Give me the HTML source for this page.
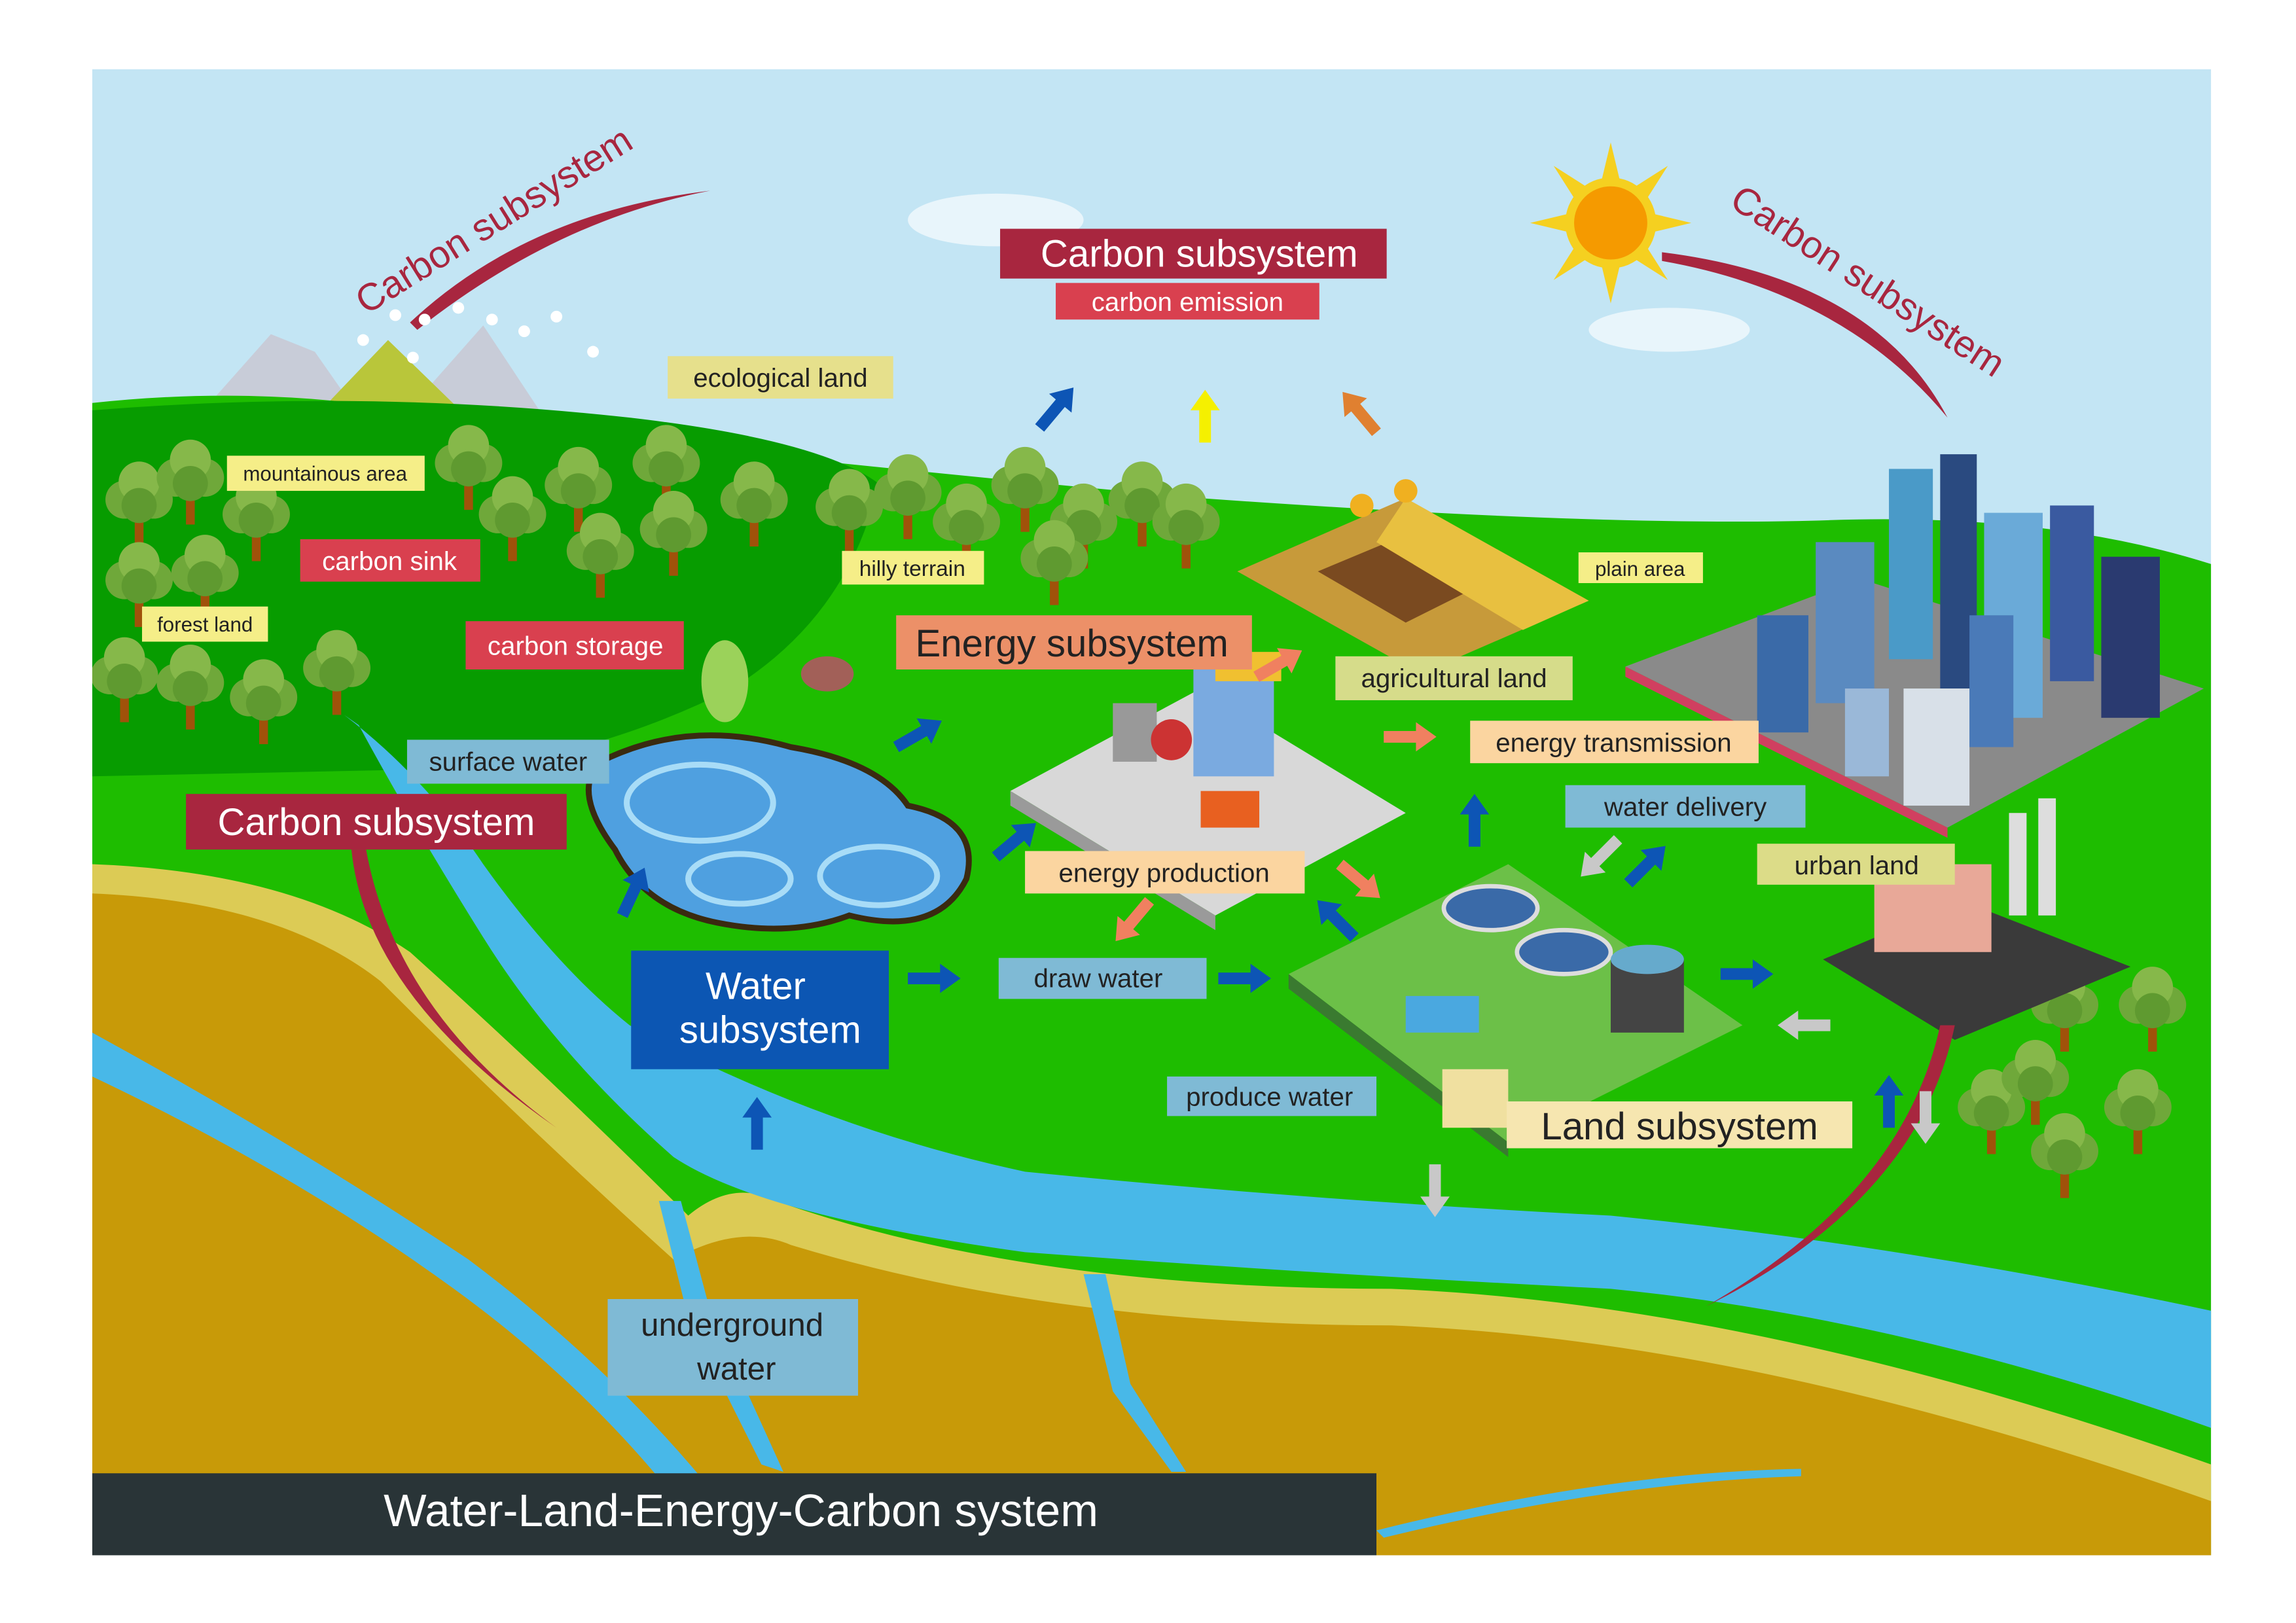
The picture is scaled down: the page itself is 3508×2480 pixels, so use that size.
<!DOCTYPE html>
<html><head><meta charset="utf-8"><style>
html,body{margin:0;padding:0;background:#fff}
svg{display:block}
text{font-family:"Liberation Sans",sans-serif}
</style></head><body>
<svg width="3508" height="2480" viewBox="0 0 1568 1108" xmlns="http://www.w3.org/2000/svg">
<defs>
<clipPath id="fr"><rect x="63" y="47" width="1447" height="1015"/></clipPath>
<g id="tree"><rect x="-3" y="0" width="6" height="28" fill="#a0520a"/><circle cx="-10" cy="-4" r="13" fill="#6fa83a"/><circle cx="10" cy="-4" r="13" fill="#6fa83a"/><circle cx="0" cy="-16" r="14" fill="#86b84a"/><circle cx="0" cy="0" r="12" fill="#5f9a30"/></g>
<path id="arr" d="M-4,0 L-4,-22 L-10,-22 L0,-36 L10,-22 L4,-22 L4,0 z"/>
</defs>
<g clip-path="url(#fr)">
<rect x="63" y="47" width="1447" height="1015" fill="#c3e5f4"/>
<ellipse cx="680" cy="150" rx="60" ry="18" fill="#e8f5fb"/>
<ellipse cx="1140" cy="225" rx="55" ry="15" fill="#e8f5fb"/>
<path d="M130,290 L185,228 L215,240 L250,290 Z" fill="#c8ccd8"/>
<path d="M270,290 L330,222 L375,290 Z" fill="#c8ccd8"/>
<path d="M200,300 L265,232 L335,300 Z" fill="#b9c63a"/>
<path d="M63,275 Q200,260 330,290 Q600,320 820,340 Q1100,360 1250,355 Q1400,350 1510,385 L1510,1062 L63,1062 Z" fill="#1ebd00"/>
<path d="M63,280 Q250,265 430,285 Q560,300 600,330 Q580,420 500,470 Q400,520 300,525 L63,530 Z" fill="#079c00"/>
<path d="M63,590 Q200,595 280,650 Q380,740 470,830 Q500,805 530,820 Q700,880 950,880 Q1200,890 1510,1000 L1510,1062 L63,1062 Z" fill="#dccb55"/>
<path d="M63,610 Q190,615 260,670 Q360,770 460,860 Q505,835 540,850 Q720,905 950,905 Q1200,915 1510,1025 L1510,1062 L63,1062 Z" fill="#c89a08"/>
<path d="M235,488 Q290,530 330,590 Q380,660 430,700 Q560,770 700,800 Q900,820 1100,830 Q1300,850 1510,895 L1510,975 Q1300,900 1100,880 Q900,870 700,855 Q520,830 460,790 Q380,720 330,640 Q280,560 245,495 Z" fill="#48b8e8"/>
<path d="M63,735 Q200,800 310,880 Q420,960 490,1062 L520,1062 Q440,950 320,860 Q200,780 63,705 Z" fill="#48b8e8"/>
<path d="M450,820 L470,900 L520,1000 L535,1005 L485,895 L465,820 Z" fill="#48b8e8"/>
<path d="M740,870 L760,950 L800,1005 L810,1005 L772,945 L755,870 Z" fill="#48b8e8"/>
<path d="M940,1045 Q1100,1005 1230,1003 L1230,1008 Q1100,1012 945,1050 Z" fill="#48b8e8"/>
<path d="M410,520 Q470,490 540,510 Q600,520 620,550 Q670,560 660,600 Q640,640 580,625 Q540,640 490,630 Q440,620 420,580 Q390,540 410,520 Z" fill="#4fa0e0" stroke="#3a2a10" stroke-width="4"/>
<ellipse cx="478" cy="548" rx="50" ry="26" fill="none" stroke="#a8dcf7" stroke-width="4"/>
<ellipse cx="600" cy="598" rx="40" ry="20" fill="none" stroke="#a8dcf7" stroke-width="4"/>
<ellipse cx="505" cy="600" rx="35" ry="17" fill="none" stroke="#a8dcf7" stroke-width="4"/>
<g>
<use href="#tree" x="95" y="345"/><use href="#tree" x="130" y="330"/><use href="#tree" x="175" y="355"/><use href="#tree" x="95" y="400"/><use href="#tree" x="140" y="395"/>
<use href="#tree" x="85" y="465"/><use href="#tree" x="130" y="470"/><use href="#tree" x="180" y="480"/><use href="#tree" x="230" y="460"/>
<use href="#tree" x="320" y="320"/><use href="#tree" x="350" y="355"/><use href="#tree" x="395" y="335"/><use href="#tree" x="455" y="320"/><use href="#tree" x="410" y="380"/><use href="#tree" x="460" y="365"/><use href="#tree" x="515" y="345"/>
<use href="#tree" x="580" y="350"/><use href="#tree" x="620" y="340"/><use href="#tree" x="660" y="360"/><use href="#tree" x="700" y="335"/><use href="#tree" x="740" y="360"/><use href="#tree" x="780" y="345"/><use href="#tree" x="810" y="360"/><use href="#tree" x="720" y="385"/>
<use href="#tree" x="1360" y="760"/><use href="#tree" x="1410" y="790"/><use href="#tree" x="1460" y="760"/><use href="#tree" x="1410" y="690"/><use href="#tree" x="1470" y="690"/><use href="#tree" x="1390" y="740"/>
</g>
<ellipse cx="495" cy="465" rx="16" ry="28" fill="#9bd25a"/>
<ellipse cx="565" cy="460" rx="18" ry="12" fill="#a26058"/>
<path d="M845,390 L960,340 L1085,410 L970,460 Z" fill="#c79a3a"/>
<path d="M900,390 L960,365 L1020,395 L960,425 Z" fill="#7a4a20"/>
<path d="M960,340 L1085,410 L1040,430 L940,370 Z" fill="#e8c040"/>
<circle cx="930" cy="345" r="8" fill="#f0b020"/><circle cx="960" cy="335" r="8" fill="#f0b020"/>
<path d="M690,540 L820,470 L960,555 L830,625 Z" fill="#d8d8d8"/>
<path d="M690,540 L830,625 L830,635 L690,550 Z" fill="#9a9a9a"/>
<rect x="815" y="455" width="55" height="75" fill="#7aaae0"/>
<rect x="830" y="445" width="45" height="20" fill="#f0c030"/>
<rect x="760" y="480" width="30" height="40" fill="#999"/>
<rect x="820" y="540" width="40" height="25" fill="#e86020"/>
<circle cx="800" cy="505" r="14" fill="#c33"/>
<path d="M880,665 L1030,590 L1190,700 L1030,780 Z" fill="#6cc048"/>
<path d="M880,665 L1030,780 L1030,790 L880,675 Z" fill="#3a7a30"/>
<ellipse cx="1018" cy="620" rx="32" ry="15" fill="#3a6aa8" stroke="#ddd" stroke-width="3"/>
<ellipse cx="1068" cy="650" rx="32" ry="15" fill="#3a6aa8" stroke="#ddd" stroke-width="3"/>
<rect x="1100" y="655" width="50" height="50" fill="#444"/>
<ellipse cx="1125" cy="655" rx="25" ry="10" fill="#6ac"/>
<rect x="960" y="680" width="50" height="25" fill="#4aa8e0"/>
<rect x="985" y="730" width="45" height="40" fill="#f0e0a0"/>
<path d="M1110,455 L1270,395 L1505,470 L1330,565 Z" fill="#8a8a8a"/>
<path d="M1110,455 L1330,565 L1330,572 L1110,462 Z" fill="#d04060"/>
<rect x="1200" y="420" width="35" height="80" fill="#3a6aa8"/>
<rect x="1240" y="370" width="40" height="110" fill="#5a8ac0"/>
<rect x="1290" y="320" width="30" height="130" fill="#4a9ac8"/>
<rect x="1325" y="310" width="25" height="160" fill="#2a4a80"/>
<rect x="1355" y="350" width="40" height="140" fill="#6aaad8"/>
<rect x="1400" y="345" width="30" height="120" fill="#3a5aa0"/>
<rect x="1435" y="380" width="40" height="110" fill="#2a3a70"/>
<rect x="1300" y="470" width="45" height="80" fill="#d8e0e8"/>
<rect x="1345" y="420" width="30" height="90" fill="#4a7ab8"/>
<rect x="1260" y="470" width="30" height="60" fill="#9ab8d8"/>
<path d="M1245,655 L1340,615 L1455,660 L1335,710 Z" fill="#3a3a3a"/>
<rect x="1280" y="590" width="80" height="60" fill="#e8a898"/>
<rect x="1372" y="555" width="12" height="70" fill="#ddd"/>
<rect x="1392" y="545" width="12" height="80" fill="#ddd"/>
<g transform="translate(1100,152)">
<g fill="#f5d020">
<polygon points="0,-55 6,-30 -6,-30"/><polygon points="0,55 6,30 -6,30"/><polygon points="-55,0 -30,6 -30,-6"/><polygon points="55,0 30,6 30,-6"/>
<polygon points="39,-39 25,-17 17,-25"/><polygon points="-39,39 -25,17 -17,25"/><polygon points="39,39 25,17 17,25"/><polygon points="-39,-39 -25,-17 -17,-25"/>
</g>
<circle r="31" fill="#f5d020"/><circle r="25" fill="#f59a00"/>
</g>
<path d="M280,220 Q360,145 485,130 Q380,150 285,225 Z" fill="#a8263f"/>
<path d="M1135,172 Q1280,190 1330,285 Q1260,200 1135,178 Z" fill="#a8263f"/>
<path d="M240,580 Q250,680 380,770 Q270,690 250,580 Z" fill="#a8263f"/>
<path d="M1335,700 Q1310,820 1165,892 Q1300,815 1325,700 Z" fill="#a8263f"/>
<g fill="#fff"><circle cx="248" cy="232" r="4"/><circle cx="270" cy="215" r="4"/><circle cx="290" cy="218" r="4"/><circle cx="313" cy="210" r="4"/><circle cx="336" cy="218" r="4"/><circle cx="358" cy="226" r="4"/><circle cx="380" cy="216" r="4"/><circle cx="405" cy="240" r="4"/><circle cx="282" cy="244" r="4"/></g>
<g fill="#0d55b5">
<use href="#arr" transform="translate(710,292) rotate(40)"/>
<use href="#arr" transform="translate(425,625) rotate(25)"/>
<use href="#arr" transform="translate(612,510) rotate(60)"/>
<use href="#arr" transform="translate(680,585) rotate(50)"/>
<use href="#arr" transform="translate(620,668) rotate(90)"/>
<use href="#arr" transform="translate(832,668) rotate(90)"/>
<use href="#arr" transform="translate(517,785) rotate(0)"/>
<use href="#arr" transform="translate(1007,578) rotate(0)"/>
<use href="#arr" transform="translate(1112,603) rotate(45)"/>
<use href="#arr" transform="translate(925,640) rotate(-45)"/>
<use href="#arr" transform="translate(1175,665) rotate(90)"/>
<use href="#arr" transform="translate(1290,770) rotate(0)"/>
</g>
<use href="#arr" fill="#f5f000" transform="translate(823,302)"/>
<use href="#arr" fill="#e08030" transform="translate(940,295) rotate(-40)"/>
<g fill="#f08060">
<use href="#arr" transform="translate(858,462) rotate(60)"/>
<use href="#arr" transform="translate(945,503) rotate(90)"/>
<use href="#arr" transform="translate(915,590) rotate(130)"/>
<use href="#arr" transform="translate(785,615) rotate(-140)"/>
</g>
<g fill="#c8c8c8">
<use href="#arr" transform="translate(1105,573) rotate(-135)"/>
<use href="#arr" transform="translate(1250,700) rotate(-90)"/>
<use href="#arr" transform="translate(980,795) rotate(180)"/>
<use href="#arr" transform="translate(1315,745) rotate(180)"/>
</g>
<rect x="63" y="1006" width="877" height="56" fill="#293437"/>
<text x="506" y="1042" font-size="31" fill="#fff" text-anchor="middle">Water-Land-Energy-Carbon system</text>
</g>
<text transform="translate(250,215) rotate(-32)" font-size="26" fill="#a8263f">Carbon subsystem</text>
<text transform="translate(1180,140) rotate(33)" font-size="26" fill="#a8263f">Carbon subsystem</text>
<g font-size="18">
<rect x="456" y="243" width="154" height="29" fill="#e6e08c"/><text x="533" y="264" text-anchor="middle" fill="#222">ecological land</text>
<rect x="155" y="311" width="135" height="24" fill="#f5ee88"/><text x="222" y="328" font-size="14" text-anchor="middle" fill="#222">mountainous area</text>
<rect x="205" y="368" width="123" height="29" fill="#d9404f"/><text x="266" y="389" text-anchor="middle" fill="#fff">carbon sink</text>
<rect x="97" y="414" width="86" height="24" fill="#f5ee88"/><text x="140" y="431" font-size="14" text-anchor="middle" fill="#222">forest land</text>
<rect x="318" y="424" width="149" height="33" fill="#d9404f"/><text x="393" y="447" text-anchor="middle" fill="#fff">carbon storage</text>
<rect x="278" y="505" width="138" height="30" fill="#7fbad5"/><text x="347" y="526" text-anchor="middle" fill="#222">surface water</text>
<rect x="127" y="542" width="260" height="38" fill="#a8263f"/><text x="257" y="570" font-size="26" text-anchor="middle" fill="#fff">Carbon subsystem</text>
<rect x="575" y="376" width="97" height="23" fill="#f5ee88"/><text x="623" y="393" font-size="15" text-anchor="middle" fill="#222">hilly terrain</text>
<rect x="683" y="156" width="264" height="34" fill="#a8263f"/><text x="819" y="182" font-size="26" text-anchor="middle" fill="#fff">Carbon subsystem</text>
<rect x="721" y="193" width="180" height="25" fill="#d9404f"/><text x="811" y="212" text-anchor="middle" fill="#fff">carbon  emission</text>
<rect x="612" y="420" width="243" height="37" fill="#ec9068"/><text x="732" y="448" font-size="26" text-anchor="middle" fill="#222">Energy subsystem</text>
<rect x="912" y="448" width="162" height="30" fill="#d6dc8a"/><text x="993" y="469" text-anchor="middle" fill="#222">agricultural land</text>
<rect x="1078" y="377" width="85" height="21" fill="#f5ee88"/><text x="1120" y="393" font-size="14" text-anchor="middle" fill="#222">plain area</text>
<rect x="1004" y="492" width="197" height="29" fill="#fbd5a0"/><text x="1102" y="513" text-anchor="middle" fill="#222">energy  transmission</text>
<rect x="1069" y="536" width="164" height="29" fill="#7fbad5"/><text x="1151" y="557" text-anchor="middle" fill="#222">water delivery</text>
<rect x="1200" y="576" width="135" height="28" fill="#dcdc88"/><text x="1268" y="597" text-anchor="middle" fill="#222">urban land</text>
<rect x="700" y="581" width="191" height="29" fill="#fbd5a0"/><text x="795" y="602" text-anchor="middle" fill="#222">energy production</text>
<rect x="682" y="654" width="142" height="28" fill="#7fbad5"/><text x="750" y="674" text-anchor="middle" fill="#222">draw water</text>
<rect x="431" y="649" width="176" height="81" fill="#0c56b3"/><text x="516" y="682" font-size="26" text-anchor="middle" fill="#fff">Water</text><text x="526" y="712" font-size="26" text-anchor="middle" fill="#fff">subsystem</text>
<rect x="797" y="735" width="143" height="27" fill="#7fbad5"/><text x="867" y="755" text-anchor="middle" fill="#222">produce water</text>
<rect x="1029" y="752" width="236" height="32" fill="#f6e6b0"/><text x="1147" y="778" font-size="26" text-anchor="middle" fill="#222">Land subsystem</text>
<rect x="415" y="887" width="171" height="66" fill="#7fbad5"/><text x="500" y="912" font-size="22" text-anchor="middle" fill="#222">underground</text><text x="503" y="942" font-size="22" text-anchor="middle" fill="#222">water</text>
</g>
</svg>
</body></html>
